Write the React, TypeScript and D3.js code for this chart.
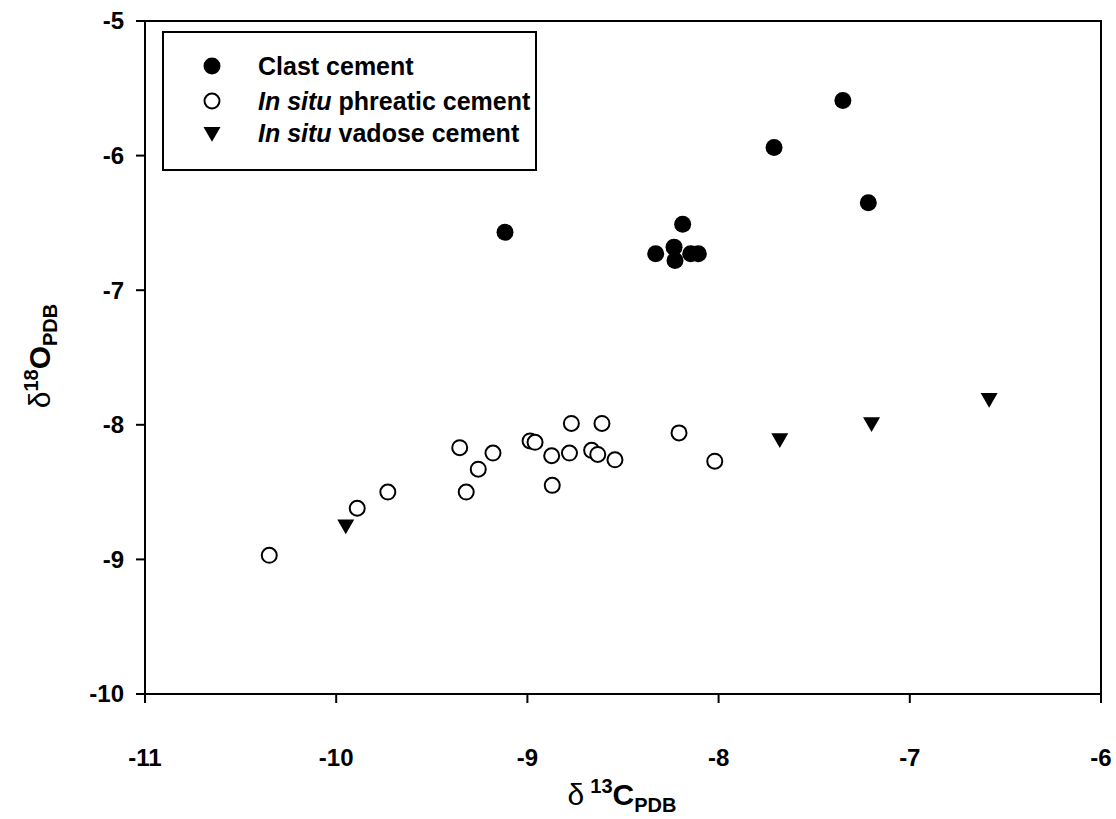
import React from "react";
import * as d3 from "d3";

const clastX = [-9.117, -8.329, -8.233, -8.228, -8.188, -8.146, -8.106, -7.71, -7.35, -7.217];
const clastY = [-6.57, -6.73, -6.68, -6.78, -6.51, -6.73, -6.73, -5.94, -5.59, -6.35];

const phreaticX = [-10.35, -9.89, -9.73, -9.354, -9.18, -9.257, -9.32, -8.986, -8.96, -8.77, -8.61, -8.873, -8.78, -8.87, -8.664, -8.632, -8.542, -8.207, -8.02];
const phreaticY = [-8.97, -8.62, -8.5, -8.17, -8.21, -8.33, -8.5, -8.12, -8.13, -7.99, -7.99, -8.23, -8.21, -8.45, -8.19, -8.22, -8.26, -8.06, -8.27];

const vadoseX = [-9.95, -7.68, -7.2, -6.585];
const vadoseY = [-8.74, -8.1, -7.98, -7.8];

const xTicks = [-11, -10, -9, -8, -7, -6];
const yTicks = [-5, -6, -7, -8, -9, -10];

const legendLabels = ["Clast cement", "phreatic cement", "vadose cement"];

const W = 1116;
const H = 819;
const left = 145, right = 1101, top = 21, bottom = 694;

export default function App() {
  const x = d3.scaleLinear().domain([-11, -6]).range([left, right]);
  const y = d3.scaleLinear().domain([-10, -5]).range([bottom, top]);
  const font = "'Liberation Sans', Arial, sans-serif";
  const tri = d3.symbol().type(d3.symbolTriangle).size(125)();
  const clast = clastX.map((v, i) => [v, clastY[i]]);
  const phre = phreaticX.map((v, i) => [v, phreaticY[i]]);
  const vad = vadoseX.map((v, i) => [v, vadoseY[i]]);

  return (
    <svg width={W} height={H} style={{ position: "absolute", left: 0, top: 0, background: "#fff" }} fontFamily={font}>
      <rect x={0} y={0} width={W} height={H} fill="#fff" />
      {/* frame */}
      <rect x={left} y={top} width={right - left} height={bottom - top} fill="none" stroke="#000" strokeWidth={2} />
      {/* y ticks */}
      {yTicks.map((t) => (
        <g key={"y" + t}>
          <line x1={left - 9} x2={left} y1={y(t)} y2={y(t)} stroke="#000" strokeWidth={2} />
          <text x={left - 21} y={y(t)} dy="0.35em" textAnchor="end" fontSize={24} fontWeight="bold">
            {t}
          </text>
        </g>
      ))}
      {/* x ticks */}
      {xTicks.map((t) => (
        <g key={"x" + t}>
          <line x1={x(t)} x2={x(t)} y1={bottom} y2={bottom + 9} stroke="#000" strokeWidth={2} />
          <text x={x(t)} y={bottom + 72} textAnchor="middle" fontSize={24} fontWeight="bold">
            {t}
          </text>
        </g>
      ))}
      {/* axis titles */}
      <text x={622} y={805} textAnchor="middle" fontSize={30} fontWeight="bold">
        <tspan fontWeight="normal">δ</tspan>
        <tspan dx={6} dy={-12} fontSize={20}>13</tspan>
        <tspan dy={12}>C</tspan>
        <tspan dy={7} fontSize={20}>PDB</tspan>
      </text>
      <text transform="translate(50,356) rotate(-90)" textAnchor="middle" fontSize={30} fontWeight="bold">
        <tspan fontWeight="normal">δ</tspan>
        <tspan dy={-12} fontSize={20}>18</tspan>
        <tspan dy={12}>O</tspan>
        <tspan dy={7} fontSize={20}>PDB</tspan>
      </text>
      {/* data */}
      {phre.map((d, i) => (
        <circle key={"p" + i} cx={x(d[0])} cy={y(d[1])} r={7.5} fill="#fff" stroke="#000" strokeWidth={2} />
      ))}
      {clast.map((d, i) => (
        <circle key={"c" + i} cx={x(d[0])} cy={y(d[1])} r={8.5} fill="#000" />
      ))}
      {vad.map((d, i) => (
        <path key={"v" + i} d={tri || ""} transform={`translate(${x(d[0])},${y(d[1])}) rotate(180)`} fill="#000" />
      ))}
      {/* legend */}
      <rect x={163} y={32} width={373} height={138} fill="#fff" stroke="#000" strokeWidth={2} />
      <circle cx={212} cy={66} r={8.5} fill="#000" />
      <circle cx={212} cy={101} r={7.5} fill="#fff" stroke="#000" strokeWidth={2} />
      <path d={tri || ""} transform="translate(212,132) rotate(180)" fill="#000" />
      <text x={258} y={66} dy="0.36em" fontSize={25} fontWeight="bold">{legendLabels[0]}</text>
      <text x={258} y={101} dy="0.36em" fontSize={25} fontWeight="bold">
        <tspan fontStyle="italic">In situ</tspan> {legendLabels[1]}
      </text>
      <text x={258} y={133} dy="0.36em" fontSize={25} fontWeight="bold">
        <tspan fontStyle="italic">In situ</tspan> {legendLabels[2]}
      </text>
    </svg>
  );
}
